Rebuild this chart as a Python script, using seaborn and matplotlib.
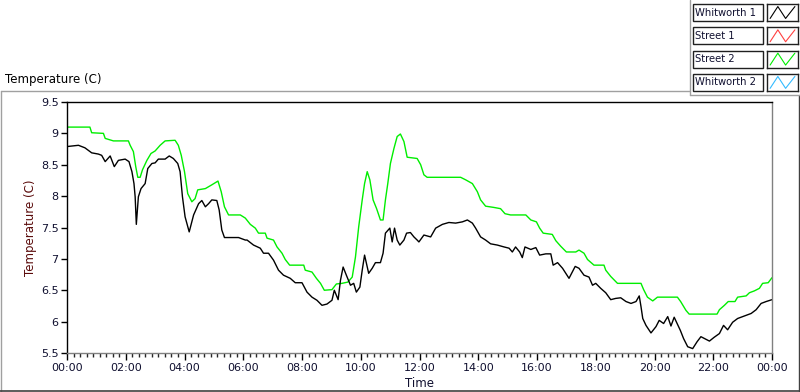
import matplotlib
matplotlib.use("Agg")
import matplotlib.pyplot as plt
import seaborn as sns
import pandas as pd
from matplotlib.ticker import MultipleLocator, FuncFormatter
from matplotlib.patches import Rectangle
from matplotlib.lines import Line2D

# Whitworth 1 (black) - hours since midnight / temperature (C)
whit1_hours = [0.0, 0.39, 0.61, 0.84, 1.07, 1.18, 1.30, 1.47, 1.61, 1.75, 1.98, 2.11, 2.21, 2.28,
               2.32, 2.36, 2.43, 2.52, 2.66, 2.75, 2.89, 3.0, 3.11, 3.34, 3.48, 3.62, 3.77, 3.85,
               3.93, 4.02, 4.16, 4.31, 4.48, 4.59, 4.71, 4.82, 4.93, 5.10, 5.18, 5.27, 5.36, 5.61,
               5.84, 6.07, 6.13, 6.35, 6.58, 6.69, 6.86, 7.03, 7.20, 7.37, 7.60, 7.77, 8.0, 8.17,
               8.34, 8.51, 8.68, 8.85, 9.02, 9.10, 9.23, 9.31, 9.40, 9.51, 9.65, 9.76, 9.85, 9.97,
               10.05, 10.13, 10.27, 10.39, 10.50, 10.67, 10.76, 10.84, 10.99, 11.07, 11.15, 11.24,
               11.33, 11.47, 11.56, 11.69, 11.81, 11.92, 11.98, 12.15, 12.38, 12.55, 12.78, 13.0,
               13.23, 13.46, 13.63, 13.80, 13.91, 14.08, 14.25, 14.42, 14.65, 14.88, 15.05, 15.16,
               15.27, 15.41, 15.50, 15.59, 15.79, 15.96, 16.09, 16.30, 16.47, 16.55, 16.70, 16.87,
               17.09, 17.30, 17.43, 17.60, 17.77, 17.89, 18.0, 18.17, 18.34, 18.51, 18.68, 18.85,
               19.03, 19.20, 19.37, 19.48, 19.54, 19.60, 19.71, 19.88, 20.05, 20.16, 20.31, 20.45,
               20.56, 20.67, 20.76, 20.88, 20.99, 21.13, 21.30, 21.45, 21.58, 21.75, 21.87, 22.03,
               22.21, 22.35, 22.49, 22.66, 22.83, 23.06, 23.29, 23.46, 23.63, 23.80, 24.0]
whit1_temp = [8.79, 8.81, 8.77, 8.69, 8.67, 8.65, 8.55, 8.64, 8.47, 8.57, 8.59, 8.55, 8.39, 8.20,
              7.99, 7.55, 7.99, 8.12, 8.20, 8.44, 8.52, 8.53, 8.59, 8.59, 8.64, 8.60, 8.52, 8.39,
              7.99, 7.67, 7.43, 7.70, 7.88, 7.93, 7.83, 7.88, 7.94, 7.93, 7.78, 7.46, 7.34, 7.34,
              7.34, 7.30, 7.30, 7.22, 7.17, 7.09, 7.09, 6.98, 6.82, 6.74, 6.69, 6.62, 6.62, 6.47,
              6.39, 6.34, 6.26, 6.28, 6.34, 6.50, 6.35, 6.66, 6.87, 6.74, 6.58, 6.61, 6.47, 6.55,
              6.82, 7.06, 6.77, 6.85, 6.94, 6.94, 7.09, 7.41, 7.49, 7.27, 7.49, 7.30,
              7.22, 7.30, 7.41, 7.42, 7.35, 7.30, 7.27, 7.38, 7.35, 7.49, 7.55, 7.58,
              7.57, 7.59, 7.62, 7.57, 7.49, 7.35, 7.30, 7.24, 7.22, 7.19, 7.17, 7.11,
              7.19, 7.11, 7.02, 7.19, 7.15, 7.18, 7.06, 7.08, 7.08, 6.90, 6.94, 6.85,
              6.69, 6.88, 6.85, 6.74, 6.71, 6.58, 6.61, 6.53, 6.46, 6.35, 6.37, 6.38,
              6.32, 6.29, 6.32, 6.41, 6.24, 6.05, 5.94, 5.82, 5.92, 6.02, 5.97, 6.08,
              5.93, 6.07, 5.98, 5.86, 5.73, 5.60, 5.57, 5.68, 5.76, 5.72, 5.69, 5.75,
              5.81, 5.94, 5.87, 5.99, 6.05, 6.09, 6.13, 6.19, 6.29, 6.32, 6.35]

# Street 2 (green)
street2_hours = [0.0, 0.78, 0.84, 1.24, 1.30, 1.58, 2.09, 2.15, 2.26, 2.34, 2.41, 2.49, 2.57, 2.72,
                 2.86, 3.0, 3.17, 3.34, 3.68, 3.79, 3.89, 4.0, 4.11, 4.25, 4.36, 4.45, 4.71, 4.93,
                 5.14, 5.25, 5.36, 5.50, 5.90, 6.07, 6.24, 6.41, 6.52, 6.75, 6.81, 7.03, 7.15, 7.32,
                 7.43, 7.58, 8.06, 8.11, 8.34, 8.49, 8.63, 8.76, 9.02, 9.17, 9.36, 9.56, 9.71, 9.82,
                 9.93, 10.05, 10.13, 10.22, 10.31, 10.42, 10.54, 10.67, 10.76, 10.84, 10.92, 11.01,
                 11.13, 11.24, 11.35, 11.47, 11.58, 11.92, 12.04, 12.15, 12.26, 13.40, 13.57, 13.80,
                 13.97, 14.08, 14.25, 14.53, 14.76, 14.91, 15.10, 15.62, 15.79, 15.98, 16.09, 16.21,
                 16.52, 16.64, 16.81, 17.0, 17.32, 17.43, 17.60, 17.72, 17.89, 17.94, 18.28, 18.34,
                 18.51, 18.74, 19.54, 19.63, 19.76, 19.94, 20.10, 20.78, 20.89, 21.07, 21.18, 22.13,
                 22.21, 22.38, 22.51, 22.74, 22.83, 23.12, 23.23, 23.40, 23.57, 23.68, 23.87, 24.0]
street2_temp = [9.10, 9.10, 9.01, 9.0, 8.92, 8.88, 8.88, 8.81, 8.71, 8.47, 8.30, 8.30, 8.42, 8.57,
                8.68, 8.72, 8.81, 8.88, 8.89, 8.81, 8.65, 8.39, 8.04, 7.91, 7.96, 8.10, 8.12, 8.18,
                8.24, 8.07, 7.83, 7.70, 7.70, 7.65, 7.55, 7.49, 7.41, 7.41, 7.33, 7.30, 7.19, 7.09,
                6.99, 6.90, 6.90, 6.82, 6.79, 6.69, 6.61, 6.50, 6.51, 6.60, 6.61, 6.63, 6.71, 7.03,
                7.51, 7.94, 8.20, 8.39, 8.26, 7.94, 7.80, 7.62, 7.62, 7.94, 8.20, 8.52,
                8.76, 8.95, 8.99, 8.87, 8.62, 8.60, 8.50, 8.34, 8.30, 8.30, 8.26, 8.20,
                8.07, 7.94, 7.84, 7.82, 7.80, 7.72, 7.70, 7.70, 7.62, 7.59, 7.49, 7.41,
                7.39, 7.29, 7.20, 7.11, 7.11, 7.14, 7.09, 6.99, 6.92, 6.90, 6.90, 6.82,
                6.72, 6.61, 6.61, 6.51, 6.39, 6.33, 6.39, 6.39, 6.32, 6.18, 6.12, 6.12,
                6.19, 6.26, 6.32, 6.32, 6.39, 6.41, 6.46, 6.49, 6.53, 6.61, 6.62, 6.70]

legend_names = ["Whitworth 1", "Street 1", "Street 2", "Whitworth 2"]
legend_colors = ["#000000", "#ff4040", "#00ee00", "#33bbff"]

W, H = 800, 392
sns.set_style("white")
plt.rcParams["font.family"] = ["DejaVu Sans"]

fig = plt.figure(figsize=(W / 100, H / 100), dpi=100)
ax = fig.add_axes([67 / W, 1 - 353 / H, (772 - 67) / W, (353 - 102) / H])

df1 = pd.DataFrame({"hours": whit1_hours, "temp": whit1_temp})
df2 = pd.DataFrame({"hours": street2_hours, "temp": street2_temp})
sns.lineplot(data=df2, x="hours", y="temp", ax=ax, color="#00ee00", linewidth=1)
sns.lineplot(data=df1, x="hours", y="temp", ax=ax, color="black", linewidth=1)

ax.set_xlim(0, 24)
ax.set_ylim(5.5, 9.5)
ax.xaxis.set_major_locator(MultipleLocator(2))
ax.xaxis.set_minor_locator(MultipleLocator(2 / 9))
ax.yaxis.set_major_locator(MultipleLocator(0.5))
ax.xaxis.set_major_formatter(FuncFormatter(lambda v, p: "%02d:00" % (int(round(v)) % 24)))
ax.yaxis.set_major_formatter(FuncFormatter(lambda v, p: ("%g" % v)))
ax.tick_params(axis="both", which="major", direction="out", length=4, width=1,
               labelsize=8, colors="black", pad=2)
ax.tick_params(axis="x", which="major", length=5)
ax.tick_params(axis="x", which="minor", direction="out", length=3, width=1, bottom=True)
ax.tick_params(axis="y", which="major", left=True)
ax.tick_params(axis="x", which="major", bottom=True)
for lab in ax.get_xticklabels() + ax.get_yticklabels():
    lab.set_color("#101030")

ax.set_xlabel("Time", fontsize=8.5, color="#101030", labelpad=3)
ax.set_ylabel("Temperature (C)", fontsize=8.5, color="#5a0a0a", labelpad=3)

for side in ["left", "top"]:
    ax.spines[side].set_color("black")
    ax.spines[side].set_linewidth(1)
for side in ["right", "bottom"]:
    ax.spines[side].set_color("#808080")
    ax.spines[side].set_linewidth(1)

# Outer panel frame
gray = "#a0a0a0"
fig.add_artist(Line2D([1 / W, 1 / W], [1 - 91 / H, 1 - 391 / H], color=gray, lw=1, transform=fig.transFigure))
fig.add_artist(Line2D([1 / W, 690 / W], [1 - 91 / H, 1 - 91 / H], color=gray, lw=1, transform=fig.transFigure))
fig.add_artist(Line2D([0, 1], [1 - 391 / H, 1 - 391 / H], color="#404040", lw=1.2, transform=fig.transFigure))
fig.add_artist(Line2D([798.5 / W, 798.5 / W], [1 - 95 / H, 1 - 391 / H], color="#404040", lw=1, transform=fig.transFigure))
fig.add_artist(Line2D([690 / W, 690 / W], [1, 1 - 95 / H], color=gray, lw=1, transform=fig.transFigure))
fig.add_artist(Line2D([690 / W, 1], [1 - 95 / H, 1 - 95 / H], color=gray, lw=1, transform=fig.transFigure))

fig.text(5 / W, 1 - 80 / H, "Temperature (C)", fontsize=8.5, color="black", va="center", ha="left")

# Legend: name boxes and swatch boxes
swatch_x = [0.1, 0.35, 0.6, 0.9]
swatch_y = [0.15, 0.85, 0.15, 0.85]
for i, (name, col) in enumerate(zip(legend_names, legend_colors)):
    top = 4 + i * 23.3
    fig.add_artist(Rectangle((693 / W, 1 - (top + 17) / H), 70 / W, 17 / H, facecolor="white",
                             edgecolor="#202020", lw=1, transform=fig.transFigure))
    fig.text(695 / W, 1 - (top + 8.5) / H, name, fontsize=7.2, color="#101030", va="center", ha="left")
    sax = fig.add_axes([767 / W, 1 - (top + 17) / H, 31 / W, 17 / H])
    sax.plot(swatch_x, swatch_y, color=col, lw=0.8)
    sax.set_xlim(0, 1)
    sax.set_ylim(0, 1)
    sax.set_xticks([])
    sax.set_yticks([])
    for s in sax.spines.values():
        s.set_color("#202020")
        s.set_linewidth(1)

fig.savefig("out.png", dpi=100)
